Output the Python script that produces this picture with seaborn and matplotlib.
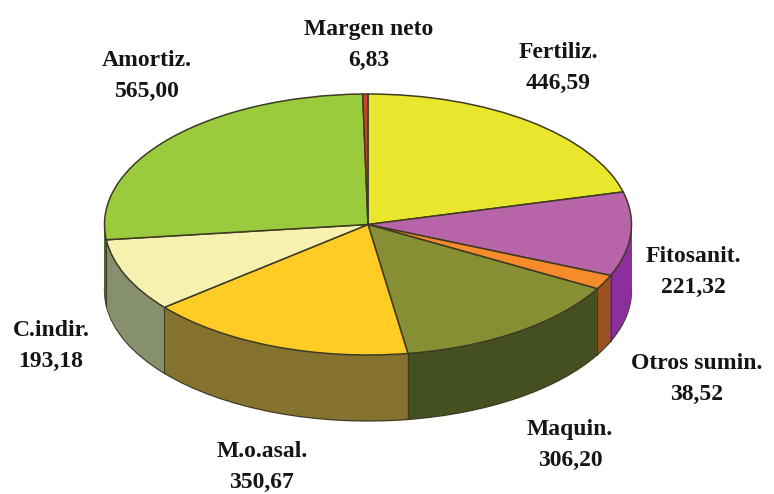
import numpy as np
import matplotlib
matplotlib.use("Agg")
import matplotlib.pyplot as plt
import seaborn as sns

# Costes por rubro
rubros = ["Fertiliz.", "Fitosanit.", "Otros sumin.", "Maquin.", "M.o.asal.",
          "C.indir.", "Amortiz.", "Margen neto"]
valores = [446.59, 221.32, 38.52, 306.20, 350.67, 193.18, 565.00, 6.83]
etiquetas = ["446,59", "221,32", "38,52", "306,20", "350,67", "193,18", "565,00", "6,83"]

colores_tapa = ["#E9E62E", "#B764A8", "#F68B2B", "#878F34", "#FFCB25", "#F6F1AE", "#9ACB3D", "#C8432B"]
colores_lado = ["#8C8A1C", "#8A2F9C", "#9A5220", "#44501F", "#85722F", "#87906C", "#4E6A2A", "#7A2A1A"]

W, H = 774, 494
sns.set_theme(style="white")
plt.rcParams["font.family"] = ["Liberation Serif", "DejaVu Serif"]

fig = plt.figure(figsize=(W / 100, H / 100), dpi=100, facecolor="white")
ax = fig.add_axes([0, 0, 1, 1])

# aplastamiento de la elipse y geometria en pixeles
rx, ry = 263.5, 130.5
k = ry / rx
cx, cy = 368, H - 224.5
alto = 66
borde = "#3E3A24"

# paredes: pilas de tortas desplazadas hacia abajo
for d in range(alto, 0, -1):
    ax.pie(valores, colors=colores_lado, startangle=90, counterclock=False,
           radius=rx, center=(cx, (cy - d) / k), frame=True,
           wedgeprops={"linewidth": 0.9 if d == alto else 0.0,
                       "edgecolor": borde, "antialiased": True})

# tapa
ax.pie(valores, colors=colores_tapa, startangle=90, counterclock=False,
       radius=rx, center=(cx, cy / k), frame=True,
       wedgeprops={"linewidth": 1.1, "edgecolor": borde})

# aristas verticales de las paredes
ang = np.pi / 2 - 2 * np.pi * np.cumsum(valores) / np.sum(valores)
for a in ang:
    if np.sin(a) < 0.05:
        x = cx + rx * np.cos(a)
        y = cy + ry * np.sin(a)
        ax.plot([x, x], [y / k, (y - alto) / k], color=borde, lw=0.8, zorder=5)

ax.set_aspect("auto")
ax.set_xlim(0, W)
ax.set_ylim(0, H / k)
ax.axis("off")

# posicion de cada rotulo (centro, en pixeles)
pos_x = [558, 693, 697, 570, 262, 51, 147, 369]
pos_y = [68, 272, 379, 445, 467, 346, 76, 45]
for nombre, et, px, py in zip(rubros, etiquetas, pos_x, pos_y):
    ax.text(px, (H - py) / k, nombre + "\n" + et, ha="center", va="center",
            fontsize=17, fontweight="bold", color="#151515", linespacing=1.6, zorder=6)

fig.savefig("out.png", dpi=100, facecolor="white")
plt.close(fig)
